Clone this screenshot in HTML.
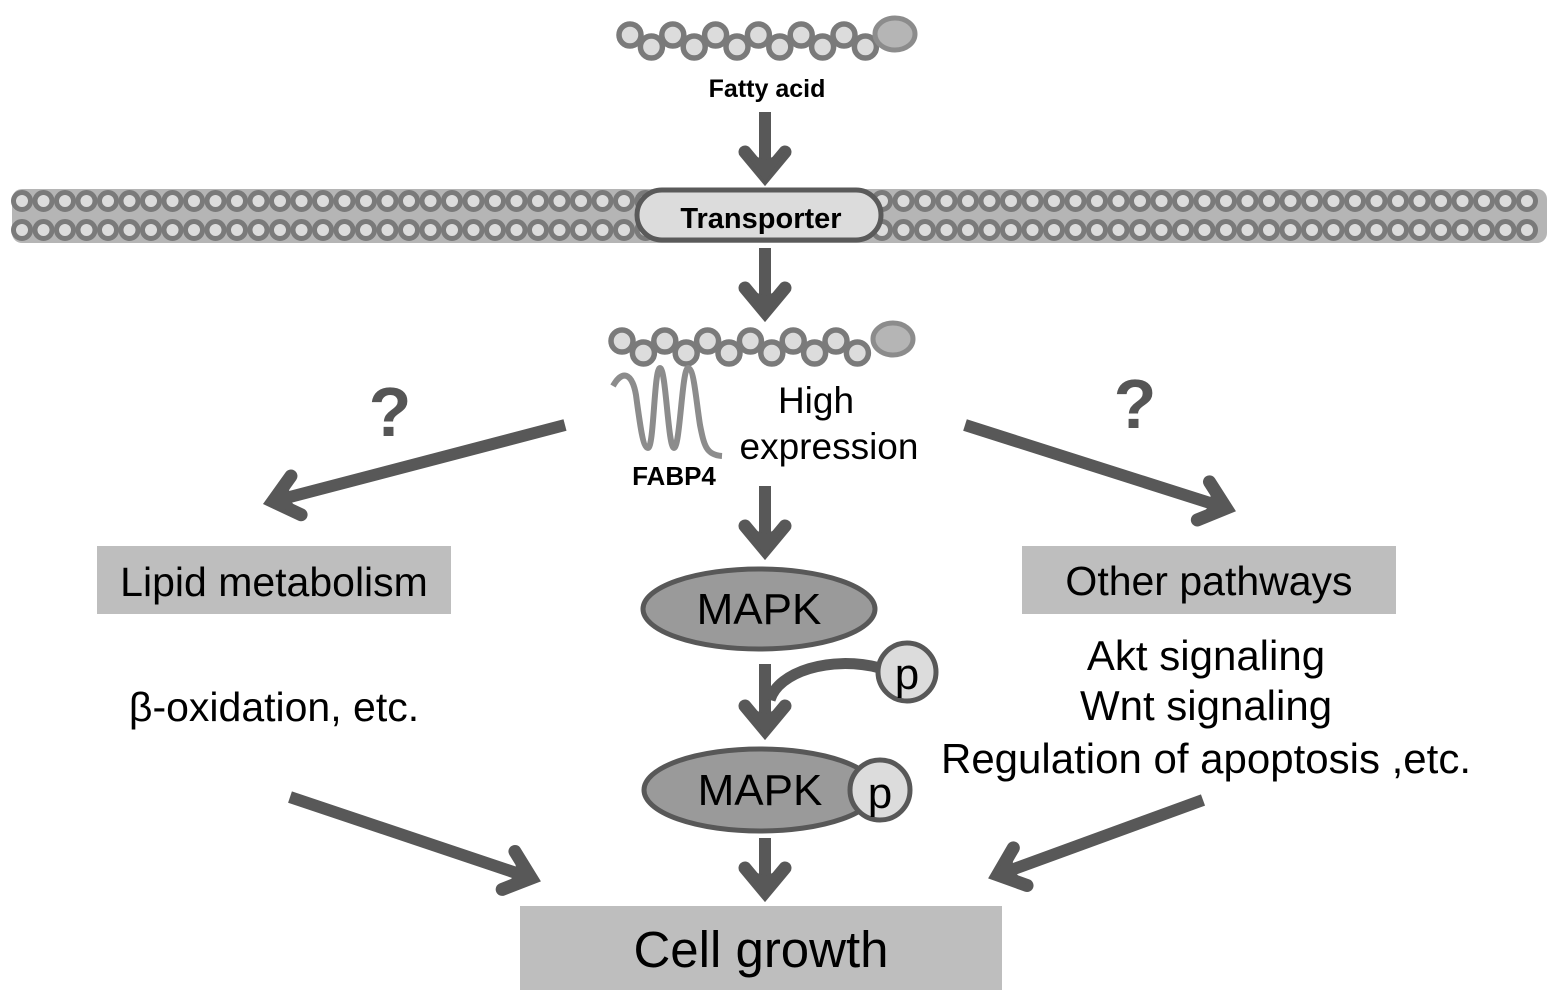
<!DOCTYPE html>
<html><head><meta charset="utf-8"><style>
html,body{margin:0;padding:0;background:#fff;}
svg{display:block;font-family:"Liberation Sans",Arial,sans-serif;}
</style></head><body>
<svg id="s" width="1559" height="1003" viewBox="0 0 1559 1003" xmlns="http://www.w3.org/2000/svg">
<rect x="12" y="189" width="1535" height="54" rx="10" fill="#b5b5b5"/>
<g id="mem"></g>
<g id="fa1"></g>
<g id="fa2"></g>
<rect x="637" y="190" width="244" height="50" rx="25" fill="#dcdcdc" stroke="#5a5a5a" stroke-width="5"/>
<text x="761" y="228" font-size="29" font-weight="bold" text-anchor="middle">Transporter</text>
<text x="767" y="97" font-size="25" font-weight="bold" text-anchor="middle">Fatty acid</text>
<path d="M613,386 C622,370 632,372 636,395 C640,425 643,448 648,448 C654,448 654,368 660,368 C666,368 668,448 674,448 C680,448 682,368 688,368 C694,368 696,400 700,425 C704,445 706,455 722,456" fill="none" stroke="#8c8c8c" stroke-width="6"/>
<text x="674" y="485" font-size="26" font-weight="bold" text-anchor="middle">FABP4</text>
<text x="816" y="413" font-size="37" text-anchor="middle">High</text>
<text x="829" y="459" font-size="37" text-anchor="middle">expression</text>
<text x="390" y="436" font-size="70" font-weight="bold" fill="#555" text-anchor="middle">?</text>
<text x="1135" y="428" font-size="70" font-weight="bold" fill="#555" text-anchor="middle">?</text>
<g id="arr" stroke="#585858" stroke-width="12" fill="none" stroke-linecap="butt"></g>
<path d="M770,700 C778,672 830,655 880,668" fill="none" stroke="#585858" stroke-width="11"/>
<rect x="97" y="546" width="354" height="68" fill="#bebebe"/>
<text x="274" y="596" font-size="41" text-anchor="middle">Lipid metabolism</text>
<rect x="1022" y="546" width="374" height="68" fill="#bebebe"/>
<text x="1209" y="595" font-size="41" text-anchor="middle">Other pathways</text>
<text x="274" y="721" font-size="41" text-anchor="middle">β-oxidation, etc.</text>
<text x="1206" y="670" font-size="42" text-anchor="middle">Akt signaling</text>
<text x="1206" y="720" font-size="42" text-anchor="middle">Wnt signaling</text>
<text x="1206" y="773" font-size="42" text-anchor="middle">Regulation of apoptosis ,etc.</text>
<ellipse cx="759" cy="609" rx="116" ry="40" fill="#9a9a9a" stroke="#585858" stroke-width="5"/>
<text x="759" y="624" font-size="44" text-anchor="middle">MAPK</text>
<circle cx="907" cy="672" r="29" fill="#dcdcdc" stroke="#585858" stroke-width="5"/>
<text x="907" y="689" font-size="44" text-anchor="middle">p</text>
<ellipse cx="760" cy="790" rx="116" ry="41" fill="#9a9a9a" stroke="#585858" stroke-width="5"/>
<text x="760" y="805" font-size="44" text-anchor="middle">MAPK</text>
<circle cx="880" cy="790" r="30" fill="#dcdcdc" stroke="#585858" stroke-width="5"/>
<text x="880" y="808" font-size="44" text-anchor="middle">p</text>
<rect x="520" y="906" width="482" height="84" fill="#bebebe"/>
<text x="761" y="967" font-size="51" text-anchor="middle">Cell growth</text>
</svg>
<script>
var NS="http://www.w3.org/2000/svg";
function mk(t,a,g){var e=document.createElementNS(NS,t);for(var k in a)e.setAttribute(k,a[k]);g.appendChild(e);return e;}
function c(g,x,y,r,fill,sw){mk("circle",{cx:x,cy:y,r:r,fill:fill,stroke:"#7a7a7a","stroke-width":sw},g);}
var m=document.getElementById("mem");
for(var x=22;x<=1540;x+=21.5){c(m,x,201,8.5,"#dcdcdc",5);c(m,x,230,8.5,"#dcdcdc",5);}
function chain(id,x0,yu,yd,hx,hy){var g=document.getElementById(id);
for(var i=0;i<12;i++){var x=x0+i*21.4;c(g,x,i%2?yd:yu,11,"#dcdcdc",5.5);}
mk("ellipse",{cx:hx,cy:hy,rx:20,ry:16,fill:"#b5b5b5",stroke:"#8c8c8c","stroke-width":5},g);}
chain("fa1",630,35,47,895,34);
chain("fa2",622,341,353,893,339);
var A=document.getElementById("arr");
function arrow(x1,y1,x2,y2){var dx=x2-x1,dy=y2-y1,L=Math.hypot(dx,dy),ux=dx/L,uy=dy/L,px=-uy,py=ux;
mk("line",{x1:x1,y1:y1,x2:x2-ux*8,y2:y2-uy*8},A);
var b=30,w=20;
var ax=x2-ux*b+px*w,ay=y2-uy*b+py*w,bx=x2-ux*b-px*w,by=y2-uy*b-py*w;
mk("path",{d:"M"+ax+","+ay+" L"+(x2-ux*6)+","+(y2-uy*6)+" L"+bx+","+by,"stroke-linecap":"round","stroke-linejoin":"miter","stroke-width":13},A);
mk("polygon",{points:ax+","+ay+" "+x2+","+y2+" "+bx+","+by+" "+(x2-ux*22)+","+(y2-uy*22),fill:"#585858",stroke:"none"},A);}
arrow(765,112,765,182);
arrow(765,248,765,318);
arrow(765,486,765,556);
arrow(565,425,267,503);
arrow(965,425,1232,510);
arrow(765,664,765,736);
arrow(765,838,765,898);
arrow(290,797,537,880);
arrow(1203,800,992,877);
</script>
</body></html>
